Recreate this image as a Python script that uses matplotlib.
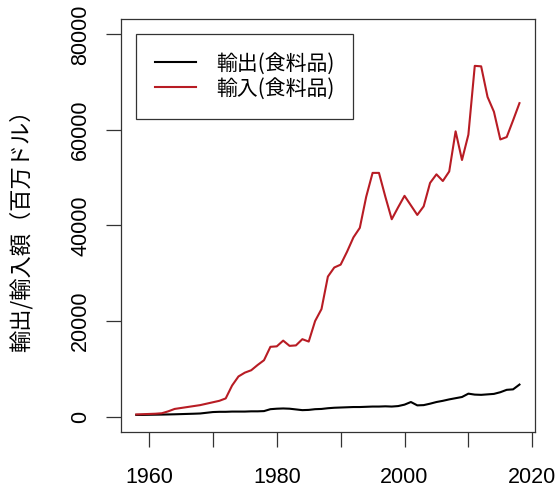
import matplotlib
matplotlib.use("Agg")
import matplotlib.pyplot as plt

plt.rcParams['font.family'] = ['Liberation Sans', 'Noto Sans CJK JP', 'DejaVu Sans']

years = list(range(1958, 2019))

# exports of food (million USD)
exports = [350, 350, 380, 400, 420, 450, 480, 520, 560, 600,
           650, 800, 950, 1000, 1000, 1050, 1050, 1050, 1100, 1100,
           1150, 1550, 1650, 1700, 1650, 1500, 1350, 1400, 1550, 1600,
           1750, 1850, 1900, 1950, 2000, 2000, 2050, 2100, 2100, 2150,
           2100, 2200, 2500, 3050, 2350, 2400, 2700, 3050, 3300, 3600,
           3850, 4100, 4800, 4600, 4550, 4650, 4750, 5100, 5600, 5700,
           6700]

# imports of food (million USD)
imports = [450, 500, 550, 600, 700, 1100, 1600, 1800, 2000, 2200,
           2400, 2700, 3000, 3300, 3800, 6500, 8400, 9200, 9700, 10800,
           11800, 14600, 14700, 15900, 14800, 14900, 16200, 15700, 20000, 22500,
           29300, 31200, 31800, 34500, 37500, 39500, 46000, 51000, 51000, 46000,
           41300, 43800, 46200, 44200, 42200, 44000, 48900, 50700, 49300, 51300,
           59700, 53700, 59000, 73400, 73300, 66900, 63800, 58000, 58500, 62000,
           65600]

labels = ['輸出(食料品)', '輸入(食料品)']
xticks = [1960, 1970, 1980, 1990, 2000, 2010, 2020]
xticklabels = ['1960', '', '1980', '', '2000', '', '2020']
yticks = [0, 20000, 40000, 60000, 80000]

fig = plt.figure(figsize=(5.6, 4.88), dpi=100)
ax = fig.add_axes([0.216, 0.115, 0.739, 0.846])

ax.plot(years, exports, color='black', lw=1.5, label=labels[0])
ax.plot(years, imports, color='#B81C24', lw=1.5, label=labels[1])

ax.set_xlim(1955.6, 2020.4)
ax.set_ylim(-3200, 83200)
ax.set_xticks(xticks)
ax.set_xticklabels(xticklabels)
ax.set_yticks(yticks)
ax.set_yticklabels([str(v) for v in yticks], rotation=90, va='center')

for s in ax.spines.values():
    s.set_color('#333333')
    s.set_linewidth(0.9)
ax.tick_params(axis='both', length=10.5, width=0.9, color='#333333', labelsize=15.5)
ax.tick_params(axis='x', pad=15)
ax.tick_params(axis='y', pad=11)

ax.set_ylabel('輸出/輸入額（百万ドル）', fontsize=16, family=['Noto Sans CJK JP'])
ax.yaxis.set_label_coords(-0.213, 0.5)

leg = ax.legend(loc='upper left', bbox_to_anchor=(0.036, 0.964), borderaxespad=0,
                fancybox=False, framealpha=1, edgecolor='#333333',
                prop={'family': 'Noto Sans CJK JP', 'size': 15},
                handlelength=2.0, handletextpad=0.95, borderpad=0.9, labelspacing=0.15)
leg.get_frame().set_linewidth(0.9)

plt.savefig('out.png', dpi=100)
